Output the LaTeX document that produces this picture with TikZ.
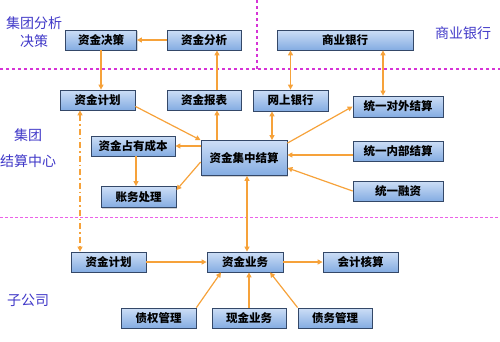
\documentclass[tikz,border=0pt]{standalone}
\usepackage{fontspec}
\newfontfamily\cjk{Noto Sans CJK SC}
\usepackage{tikz}
\usetikzlibrary{arrows.meta,calc,shadows}
\definecolor{orng}{RGB}{246,162,58}
\definecolor{boxtop}{RGB}{205,222,246}
\definecolor{boxmid}{RGB}{236,243,252}
\definecolor{boxbot}{RGB}{132,172,226}
\definecolor{boxline}{RGB}{52,72,104}
\definecolor{lblue}{RGB}{64,56,200}
\definecolor{mag}{RGB}{214,52,214}
\definecolor{pinkline}{RGB}{236,96,232}
\tikzset{box/.style={draw=boxline,line width=0.8pt,top color=boxtop,middle color=boxmid,bottom color=boxbot,
    drop shadow={shadow xshift=1.2pt,shadow yshift=-1.2pt,opacity=0.35,fill=gray},
    minimum height=20pt,inner sep=0pt,font=\cjk\bfseries\fontsize{11.5}{13}\selectfont},
  arr/.style={orng,line width=1.2pt,-{Triangle[length=5pt,width=5pt]}},
  darr/.style={arr,{Triangle[length=5pt,width=5pt]}-{Triangle[length=5pt,width=5pt]}},
  lbl/.style={lblue,align=center,font=\cjk\fontsize{14}{18}\selectfont},
  sep/.style={mag,line width=1.6pt,dash pattern=on 3pt off 3pt},
  septhin/.style={pinkline,line width=1pt,dash pattern=on 3pt off 2pt}}
\begin{document}
\begin{tikzpicture}[x=1pt,y=-1pt]
\useasboundingbox (0,0) rectangle (500,341);
% separators
\draw[sep] (0,69)--(500,69); \draw[sep] (257,0)--(257,69);
\draw[septhin] (0,217)--(500,217);
% level labels
\node[lbl] (fxjc) at (34,32) {集团分析\\决策};
\node[lbl] (yhlbl) at (463,33) {商业银行};
\node[lbl] (jszx) at (28,148) {集团\\[8pt]结算中心};
\node[lbl] (zgs) at (28,300) {子公司};
% group level
\node[box,minimum width=71] (zjjc) at (101,40) {资金决策};
\node[box,minimum width=74] (zjfx) at (204,40) {资金分析};
\node[box,minimum width=136] (syyh) at (345,40) {商业银行};
% settlement centre
\node[box,minimum width=75] (jhA) at (97.5,100) {资金计划};
\node[box,minimum width=74] (zjbb) at (204,100) {资金报表};
\node[box,minimum width=75,minimum height=21] (wsyh) at (290.5,100.5) {网上银行};
\node[box,minimum width=90,minimum height=21] (dwjs) at (398,106.5) {统一对外结算};
\node[box,minimum width=84] (zycb) at (133,146) {资金占有成本};
\node[box,minimum width=86,minimum height=35] (jzjs) at (244,158) {资金集中结算};
\node[box,minimum width=75,minimum height=21] (zwcl) at (138.5,197) {账务处理};
\node[box,minimum width=90] (nbjs) at (398,151) {统一内部结算};
\node[box,minimum width=90] (tyrz) at (398,191) {统一融资};
% subsidiary
\node[box,minimum width=75] (jhB) at (108.5,262) {资金计划};
\node[box,minimum width=76] (zjyw) at (245,262) {资金业务};
\node[box,minimum width=75] (kjhs) at (360.5,262) {会计核算};
\node[box,minimum width=75] (zqgl) at (158.5,318) {债权管理};
\node[box,minimum width=74] (xjyw) at (249,318) {现金业务};
\node[box,minimum width=74] (zwgl) at (335,318) {债务管理};
% connectors
\draw[arr] (zjfx.west)--(zjjc.east);
\draw[arr] (zjjc.south)--(zjjc.south |- jhA.north);
\draw[arr] ([xshift=13pt]zjbb.north)--([xshift=13pt]zjbb.north |- zjfx.south);
\draw[arr] ([xshift=-27pt]jzjs.north)--([xshift=-27pt]jzjs.north |- zjbb.south);
\draw[darr] ([xshift=28pt]jzjs.north)--([xshift=28pt]jzjs.north |- wsyh.south);
\draw[darr] (wsyh.north)--(wsyh.north |- syyh.south);
\draw[darr] ([xshift=-15pt]dwjs.north)--([xshift=-15pt]dwjs.north |- syyh.south);
\draw[arr] ([yshift=-3pt]jzjs.north east)--(dwjs.west);
\draw[arr] ([yshift=-4pt]nbjs.west)--([yshift=-4pt]nbjs.west -| jzjs.east);
\draw[arr] (tyrz.west)--([yshift=8pt]jzjs.south east);
\draw[arr] ([yshift=4pt]jhA.south east)--(jzjs.north west);
\draw[arr] (jzjs.west |- zycb.east)--(zycb.east);
\draw[arr] ([xshift=3pt]zycb.south)--([xshift=3pt]zycb.south |- zwcl.north);
\draw[arr] ([yshift=-4pt]jzjs.west)--([yshift=-4pt]zwcl.north east);
\draw[darr] ([xshift=3pt]jzjs.south)--([xshift=3pt]jzjs.south |- zjyw.north);
\draw[darr,dash pattern=on 6pt off 3pt on 1.5pt off 3pt] ([xshift=-17.5pt]jhA.south)--([xshift=-17.5pt]jhA.south |- jhB.north);
\draw[arr] (jhB.east)--(zjyw.west);
\draw[arr] (zjyw.east)--(kjhs.west);
\draw[arr] (zqgl.north east)--([xshift=-24pt]zjyw.south);
\draw[arr] (xjyw.north)--(xjyw.north |- zjyw.south);
\draw[arr] (zwgl.north west)--([xshift=25pt]zjyw.south);
\end{tikzpicture}
\end{document}
